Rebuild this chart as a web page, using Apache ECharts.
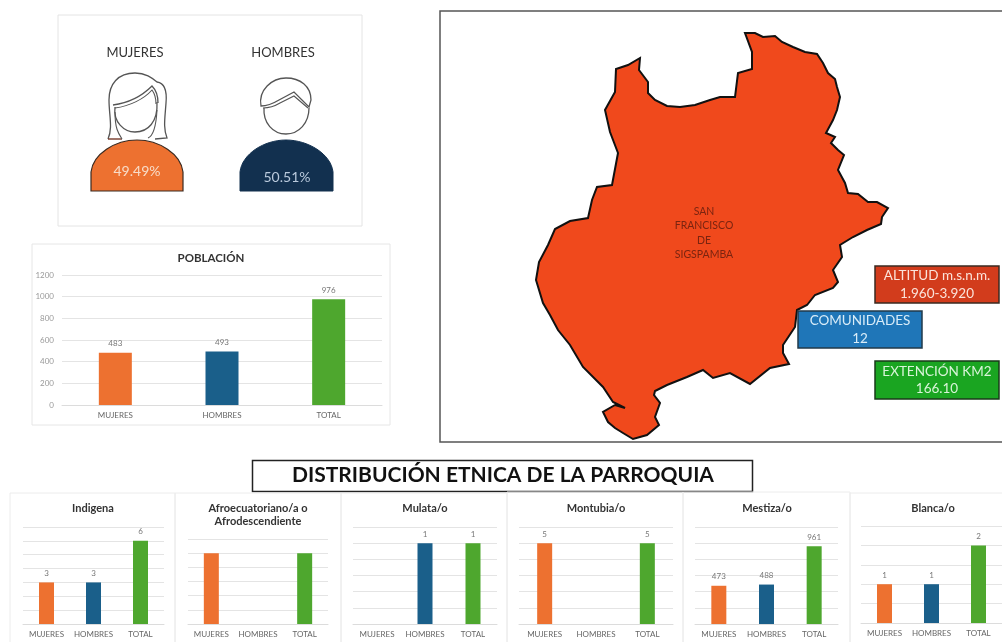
<!DOCTYPE html>
<html>
<head>
<meta charset="utf-8">
<style>
html, body { margin: 0; padding: 0; background: #fff; }
#main { width: 1002px; height: 642px; }
</style>
<script src="https://cdn.jsdelivr.net/npm/echarts@6/dist/echarts.min.js"></script>
</head>
<body>
<div id="main"></div>
<script>
var categories = ['MUJERES', 'HOMBRES', 'TOTAL'];
var barColors = ['#ed7130', '#1a5f8a', '#4ea72e'];

var poblacion = [483, 493, 976];
var porcentajes = ['49.49%', '50.51%'];

var indigena = [3, 3, 6];
var afro = [1, 0, 1];
var mulata = [0, 1, 1];
var montubia = [5, 0, 5];
var mestiza = [473, 488, 961];
var blanca = [1, 1, 2];

var mapLabel = 'SAN\nFRANCISCO\nDE\nSIGSPAMBA';
var infoTexts = ['ALTITUD m.s.n.m.\n1.960-3.920', 'COMUNIDADES\n12', 'EXTENCIÓN KM2\n166.10'];

// outline of the parroquia (x, -y so the map comes out upright)
var outline = [
    [745, 33], [755, 33], [763, 37], [775, 36], [782, 42], [793, 47], [805, 52], [817, 54], [823, 63], [828, 73],
    [835, 79], [837, 87], [840, 97], [837, 110], [833, 120], [826, 133], [835, 137], [831, 143], [838, 150], [844, 155],
    [838, 170], [845, 183], [848, 193], [858, 194], [868, 202], [877, 202], [888, 208], [882, 217], [881, 224], [867, 230],
    [853, 237], [840, 245], [842, 257], [833, 270], [838, 282], [833, 288], [815, 295], [807, 305], [797, 310], [795, 327],
    [783, 345], [783, 353], [789, 364], [770, 368], [750, 384], [730, 373], [713, 378], [703, 370], [687, 377], [667, 385],
    [655, 391], [654, 395], [660, 403], [655, 417], [659, 425], [647, 435], [633, 439], [623, 433], [615, 428], [608, 422],
    [603, 412], [615, 405], [625, 408], [613, 402], [603, 387], [583, 367], [570, 345], [558, 330], [550, 315], [543, 303],
    [536, 280], [539, 262], [548, 245], [555, 229], [570, 221], [588, 218], [592, 200], [597, 187], [612, 185], [618, 153],
    [610, 132], [605, 110], [615, 92], [616, 69], [628, 65], [640, 58], [639, 70], [648, 82], [648, 93], [655, 100],
    [667, 106], [680, 107], [695, 105], [710, 100], [720, 97], [735, 97], [738, 73], [752, 69], [752, 52], [745, 33]
].map(function (p) { return [p[0], -p[1]]; });

echarts.registerMap('parroquia', {
    type: 'FeatureCollection',
    features: [{
        type: 'Feature',
        properties: { name: 'San Francisco de Sigspamba' },
        geometry: { type: 'Polygon', coordinates: [outline] }
    }]
});

var fontName = 'Lato';

// one entry per small chart
var panels = [
    { title: 'Indigena', values: indigena, max: 7, step: 1, left: 23, width: 141, top: 527, height: 97, cx: 93, labels: true },
    { title: 'Afroecuatoriano/a o\nAfrodescendiente', values: afro, max: 1.2, step: 0.2, left: 188, width: 140, top: 539, height: 85, cx: 258, labels: false },
    { title: 'Mulata/o', values: mulata, max: 1.2, step: 0.2, left: 353, width: 144, top: 527, height: 97, cx: 425, labels: true },
    { title: 'Montubia/o', values: montubia, max: 6, step: 1, left: 519, width: 154, top: 527, height: 97, cx: 596, labels: true },
    { title: 'Mestiza/o', values: mestiza, max: 1200, step: 200, left: 695, width: 143, top: 527, height: 97, cx: 767, labels: true },
    { title: 'Blanca/o', values: blanca, max: 2.5, step: 0.5, left: 861, width: 143, top: 526, height: 97, cx: 933, labels: true }
];

var option = {
    animation: false,
    backgroundColor: '#fff',
    textStyle: { fontFamily: fontName },
    title: [],
    grid: [],
    xAxis: [],
    yAxis: [],
    series: [],
    geo: {
        map: 'parroquia',
        silent: true,
        aspectScale: 1,
        left: 536,
        top: 33,
        width: 352,
        height: 406,
        z: 1,
        label: { show: false },
        itemStyle: { areaColor: '#f0491c', borderColor: '#111', borderWidth: 2 }
    },
    graphic: { elements: [] }
};

function addChart(cfg, barWidth, labelSize, showAxisLabels) {
    var idx = option.grid.length;
    option.grid.push({ left: cfg.left, top: cfg.top, width: cfg.width, height: cfg.height, containLabel: false });
    option.xAxis.push({
        type: 'category',
        gridIndex: idx,
        data: categories,
        axisTick: { show: false },
        axisLine: { lineStyle: { color: '#dcdcdc' } },
        axisLabel: { interval: 0, color: '#666', fontSize: 8, margin: 6 }
    });
    option.yAxis.push({
        type: 'value',
        gridIndex: idx,
        min: 0,
        max: cfg.max,
        interval: cfg.step,
        axisLine: { show: false },
        axisTick: { show: false },
        axisLabel: {
            show: !!showAxisLabels,
            color: '#999',
            fontSize: 8,
            margin: 8,
            formatter: function (v) { return String(v); }
        },
        splitLine: { lineStyle: { color: '#e4e4e4' } }
    });
    option.series.push({
        type: 'bar',
        xAxisIndex: idx,
        yAxisIndex: idx,
        barWidth: barWidth,
        data: cfg.values.map(function (v, i) {
            return { value: v, itemStyle: { color: barColors[i] } };
        }),
        label: {
            show: cfg.labels,
            position: 'top',
            distance: 5,
            color: '#777',
            fontSize: labelSize,
            formatter: function (p) { return p.value === 0 ? '' : String(p.value); }
        }
    });
    option.title.push({
        text: cfg.title,
        left: cfg.cx,
        top: cfg.titleTop || 502,
        padding: 0,
        textAlign: 'center',
        textStyle: { fontSize: cfg.titleSize || 11, fontWeight: 'bold', color: '#333', lineHeight: 13, fontFamily: fontName }
    });
}

addChart({
    title: 'POBLACIÓN', values: poblacion, max: 1200, step: 200,
    left: 62, width: 320, top: 275, height: 130, cx: 211, labels: true, titleTop: 252, titleSize: 11.5
}, 33, 8, true);

panels.forEach(function (p) { addChart(p, 15, 8, false); });

// the two people: drawn by a custom series because graphic has no free path shape
function line(d, stroke, lw, fill) {
    return { type: 'path', shape: { pathData: d }, silent: true, style: { fill: fill || 'none', stroke: stroke, lineWidth: lw } };
}
var people = [
    line('M91,191 L91,172 C93,154 115,140 137,140 C159,140 181,154 183,172 L183,191 Z', '#3a2a20', 1.2, '#ed7130'),
    line('M108,139 C113,128 109,115 109,100 C109,84 118,73 135,73 C146,73 152,78 157,82 C165,83 167,92 166,103 C165,118 163,128 167,138 L155,139', '#555', 1.3),
    line('M108,139 L122,139', '#6b2a1a', 1.3),
    line('M115,107 C113,122 124,132 135,132 C148,132 158,122 157,102', '#555', 1.3),
    line('M113,105 C128,103 142,96 152,86 C156,90 158,96 158,103', '#555', 1.3),
    line('M115,108 C130,106 144,99 152,90 C155,94 156,99 156,104', '#555', 1.1),
    line('M122,139 C118,133 115,128 115,112', '#555', 1.1),
    line('M148,138 C153,136 156,128 157,110', '#555', 1.1),
    line('M240,191 L240,172 C242,154 264,140 286,140 C308,140 331,154 333,172 L333,191 Z', '#12304f', 1, '#12304f'),
    line('M264,108 C263,123 273,134 286,134 C299,134 309,123 309,108', '#555', 1.3),
    line('M261,106 C258,90 272,78 286,78 C300,78 311,86 311,100 L309,107 L294,92 L279,100 C274,103 268,106 261,106 Z', '#555', 1.3),
    line('M263,108 C270,108 275,106 280,103 L294,96 L308,108', '#555', 1.1)
];
option.series.push({
    type: 'custom',
    coordinateSystem: 'none',
    silent: true,
    z: 5,
    data: [0],
    renderItem: function () {
        return { type: 'group', children: people };
    }
});

// frames and texts
function rect(x, y, w, h, fill, stroke, lw, z) {
    return { type: 'rect', shape: { x: x, y: y, width: w, height: h }, z: z || 0, silent: true, style: { fill: fill, stroke: stroke, lineWidth: lw } };
}
function text(str, x, y, size, color, weight, z) {
    return { type: 'text', x: x, y: y, silent: true, z: z || 6, style: { text: str, fontSize: size, fill: color, fontWeight: weight || 'normal', fontFamily: fontName, align: 'center', verticalAlign: 'middle', lineHeight: size + 4 } };
}

var g = option.graphic.elements;
g.push(rect(58, 15, 304, 211, 'none', '#e4e4e4', 1));
g.push(rect(32, 244, 358, 181, 'none', '#e6e6e6', 1));
g.push(rect(440, 11, 570, 431, 'none', '#555', 1.5));
g.push(rect(252.5, 460.5, 500, 31, 'none', '#222', 1.5));
[[10, 165], [175, 166], [341, 166], [507, 176], [683, 167], [850, 160]].forEach(function (p, i) {
    g.push(rect(p[0], i === 3 || i === 4 ? 492 : 493, p[1], 160, 'none', '#ececec', 1));
});

g.push(text('DISTRIBUCIÓN ETNICA DE LA PARROQUIA', 503, 475, 21, '#111', 'bold'));
g.push(text('MUJERES', 135, 53, 13, '#333'));
g.push(text('HOMBRES', 283, 53, 13, '#333'));
g.push(text(porcentajes[0], 137, 171, 14, '#f8dcc8'));
g.push(text(porcentajes[1], 287, 177, 14, '#b9c9dc'));

// map name and info boxes
g.push(text(mapLabel, 704, 233, 10.5, '#7a2410', 'normal', 8));
g.push(rect(875, 266, 124, 37, '#d23c1c', '#3a2a20', 1.5, 9));
g.push(text(infoTexts[0], 937, 284.5, 13.5, '#fbe3da', 'normal', 10));
g.push(rect(798, 311, 124, 37, '#1f76b8', '#223a4a', 1.5, 9));
g.push(text(infoTexts[1], 860, 329.5, 13.5, '#d8ecf8', 'normal', 10));
g.push(rect(875, 361, 124, 38, '#1aa521', '#1a3a1a', 1.5, 9));
g.push(text(infoTexts[2], 937, 380, 13.5, '#d8f4d8', 'normal', 10));

var chart = echarts.init(document.getElementById('main'), null, { renderer: 'canvas' });
chart.setOption(option);
</script>
</body>
</html>
